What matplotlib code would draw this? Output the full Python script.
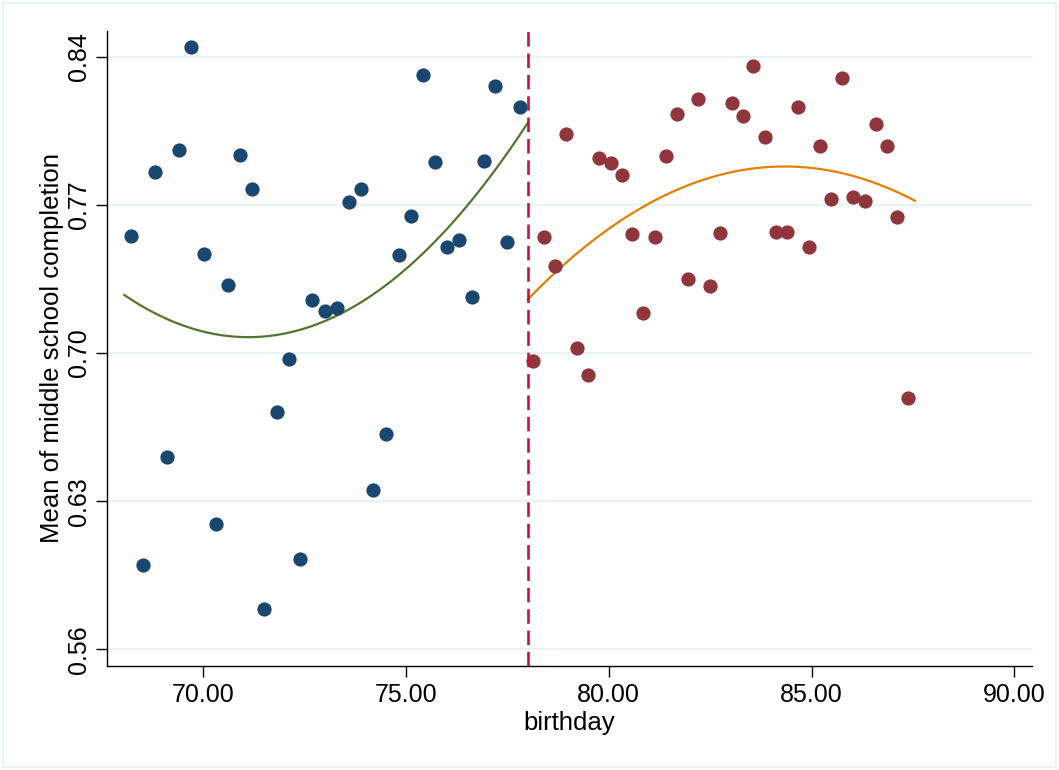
import numpy as np
import matplotlib
matplotlib.use("Agg")
from matplotlib import pyplot as plt
from matplotlib.patches import Rectangle

plt.rcParams['font.family'] = ['Liberation Sans', 'DejaVu Sans']

# binned means, left of cutoff
bday_left = [68.21, 68.51, 68.80, 69.10, 69.40, 69.69, 70.01, 70.31, 70.60, 70.90, 71.20,
             71.50, 71.81, 72.11, 72.39, 72.69, 72.99, 73.30, 73.59, 73.89, 74.18, 74.50,
             74.82, 75.11, 75.42, 75.71, 76.00, 76.31, 76.62, 76.91, 77.20, 77.50, 77.80]
comp_left = [0.7553, 0.5997, 0.7856, 0.6507, 0.7959, 0.8447, 0.7468, 0.6191, 0.7322, 0.7935, 0.7777,
             0.5789, 0.6720, 0.6973, 0.6029, 0.7249, 0.7200, 0.7211, 0.7714, 0.7777, 0.6351, 0.6618,
             0.7462, 0.7648, 0.8316, 0.7903, 0.7500, 0.7534, 0.7265, 0.7910, 0.8261, 0.7525, 0.8165]

# binned means, right of cutoff
bday_right = [78.14, 78.41, 78.67, 78.95, 79.22, 79.49, 79.77, 80.05, 80.33, 80.58, 80.85, 81.13,
              81.41, 81.67, 81.96, 82.19, 82.49, 82.75, 83.05, 83.32, 83.56, 83.86, 84.12, 84.39,
              84.67, 84.95, 85.22, 85.49, 85.76, 86.03, 86.31, 86.58, 86.86, 87.12, 87.39]
comp_right = [0.6961, 0.7550, 0.7411, 0.8037, 0.7025, 0.6897, 0.7921, 0.7900, 0.7842, 0.7563, 0.7191, 0.7550,
              0.7932, 0.8132, 0.7351, 0.8200, 0.7317, 0.7566, 0.8182, 0.8121, 0.8357, 0.8023, 0.7574, 0.7574,
              0.8165, 0.7500, 0.7979, 0.7727, 0.8299, 0.7736, 0.7717, 0.8083, 0.7979, 0.7642, 0.6787]

# quadratic fit lines (fitted on the micro data)
qfit_left_x = [68.05, 69.18, 70.91, 72.63, 74.36, 76.50, 78.00]
qfit_left_y = [0.7274, 0.7156, 0.7077, 0.7124, 0.7298, 0.7700, 0.8086]
qfit_right_x = [78.00, 78.81, 79.95, 80.94, 82.25, 82.74, 84.30, 85.95, 87.55]
qfit_right_y = [0.7251, 0.7408, 0.7582, 0.7700, 0.7810, 0.7842, 0.7886, 0.7842, 0.7719]

cutoff = 78.0

xticks = [70, 75, 80, 85, 90]
yticks = [0.56, 0.63, 0.70, 0.77, 0.84]

fig = plt.figure(figsize=(10.59, 7.70), dpi=100)
fig.patches.append(Rectangle((0.003, 0.004), 0.994, 0.992, transform=fig.transFigure,
                             fill=False, edgecolor="#eaf2f3", linewidth=1.5))
ax = fig.add_axes([0.1013, 0.1351, 0.8729, 0.8250])

for y in yticks:
    ax.axhline(y, color="#eaf2f3", linewidth=1.6, zorder=0)

ax.scatter(bday_left, comp_left, s=105, color="#1a476f", linewidths=0, zorder=3)
ax.scatter(bday_right, comp_right, s=105, color="#90353b", linewidths=0, zorder=3)

# smooth quadratic through the read points
cl = np.polyfit(qfit_left_x, qfit_left_y, 2)
xl = np.linspace(qfit_left_x[0], qfit_left_x[-1], 120)
ax.plot(xl, np.polyval(cl, xl), color="#55752f", linewidth=1.6, zorder=2)
cr = np.polyfit(qfit_right_x, qfit_right_y, 2)
xr = np.linspace(qfit_right_x[0], qfit_right_x[-1], 120)
ax.plot(xr, np.polyval(cr, xr), color="#e37e00", linewidth=1.6, zorder=2)

ax.axvline(cutoff, color="#cc1040", linewidth=1.9, linestyle=(0, (5.5, 2.6)), zorder=4)

ax.set_xlim(67.63, 90.43)
ax.set_ylim(0.5521, 0.8524)
ax.set_xticks(xticks)
ax.set_xticklabels(["%.2f" % v for v in xticks])
ax.set_yticks(yticks)
ax.set_yticklabels(["%.2f" % v for v in yticks], rotation=90, va="center")
ax.tick_params(length=8, width=1, colors="black", labelsize=18, pad=4)
for s in ["top", "right"]:
    ax.spines[s].set_visible(False)
for s in ["left", "bottom"]:
    ax.spines[s].set_linewidth(1)

ax.set_xlabel("birthday", fontsize=18.5, labelpad=3)
ax.set_ylabel("Mean of middle school completion", fontsize=18.5, labelpad=2)

fig.savefig("out.png", dpi=100, facecolor="white")
